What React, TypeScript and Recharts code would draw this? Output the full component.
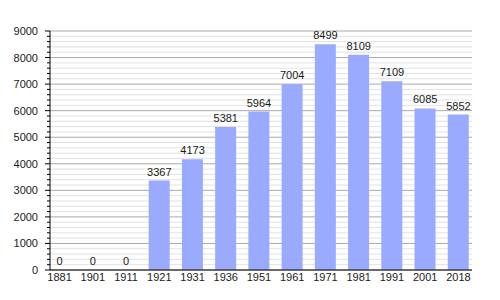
import React from 'react';
import { ComposedChart, Bar, Line, XAxis, YAxis, CartesianGrid, LabelList } from 'recharts';

const years = ['1881', '1901', '1911', '1921', '1931', '1936', '1951', '1961', '1971', '1981', '1991', '2001', '2018'];
const population = [0, 0, 0, 3367, 4173, 5381, 5964, 7004, 8499, 8109, 7109, 6085, 5852];
const majorTicks = [0, 1000, 2000, 3000, 4000, 5000, 6000, 7000, 8000, 9000];
const minorTicks = [
  200, 400, 600, 800, 1200, 1400, 1600, 1800, 2200, 2400, 2600, 2800, 3200, 3400, 3600, 3800,
  4200, 4400, 4600, 4800, 5200, 5400, 5600, 5800, 6200, 6400, 6600, 6800, 7200, 7400, 7600, 7800,
  8200, 8400, 8600, 8800,
];
const allTicks = [...majorTicks, ...minorTicks].sort((a, b) => a - b);

const data = years.map((year, i) => ({ year, value: population[i] }));

const font = '"Liberation Sans", Arial, sans-serif';

// y tick: label only on thousands, short mark for the minor ones
function YTick(props: any) {
  const { x, y, payload } = props;
  const isMajor = payload.value % 1000 === 0;
  const axisX = x + 7 + 5;
  return (
    <g>
      <line x1={axisX - (isMajor ? 5 : 3)} x2={axisX} y1={y} y2={y} stroke="#000" strokeWidth={1} />
      {isMajor && (
        <text x={x} y={y} dy={4} textAnchor="end" fontSize={11} fill="#1a1a1a" fontFamily={font}>
          {payload.value}
        </text>
      )}
    </g>
  );
}

export default function App() {
  return (
    <div style={{ position: 'absolute', left: 0, top: 0, background: '#fff' }}>
      <ComposedChart width={500} height={300} data={data} margin={{ top: 31, right: 28, left: 0, bottom: 0 }}>
        <CartesianGrid vertical={false} horizontalValues={minorTicks} stroke="#e2e2e2" />
        <CartesianGrid vertical={false} horizontalValues={majorTicks} stroke="#aaaaaa" />
        <XAxis
          dataKey="year"
          height={30}
          padding={{ left: -7, right: -3 }}
          tickLine={false}
          tickSize={0}
          tickMargin={3}
          axisLine={{ stroke: '#000' }}
          tick={{ fontSize: 11, fill: '#1a1a1a', fontFamily: font }}
          interval={0}
        />
        <YAxis
          width={50}
          domain={[0, 9000]}
          ticks={allTicks}
          interval={0}
          tickLine={false}
          tickSize={5}
          tickMargin={7}
          axisLine={{ stroke: '#000' }}
          tick={<YTick />}
        />
        <Bar dataKey="value" fill="#99aaff" barSize={21} isAnimationActive={false} />
        {/* invisible line just to carry the value labels, zeros included */}
        <Line dataKey="value" stroke="none" dot={false} activeDot={false} isAnimationActive={false}>
          <LabelList dataKey="value" position="top" offset={5} fontSize={11} fill="#1a1a1a" fontFamily={font} />
        </Line>
      </ComposedChart>
    </div>
  );
}
